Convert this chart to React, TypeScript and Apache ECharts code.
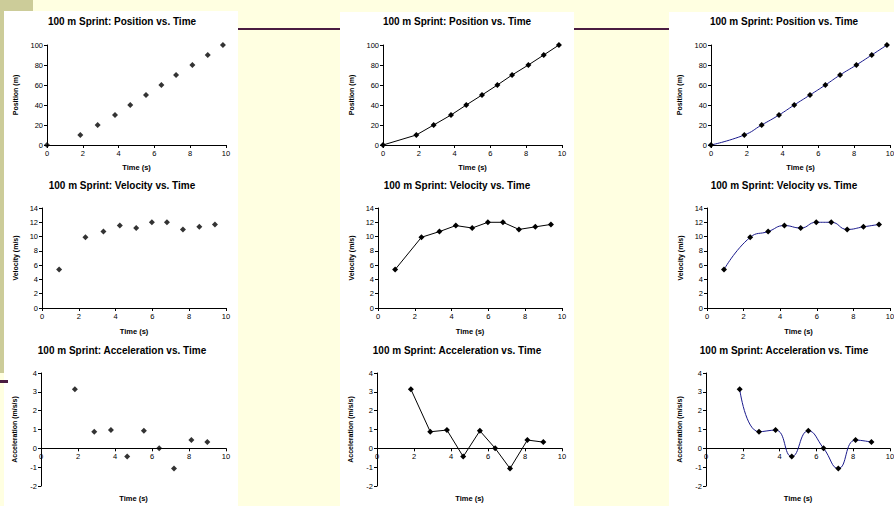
import React, { useEffect, useRef } from "react";
import * as echarts from "echarts";

const posTime = [0, 1.86, 2.83, 3.8, 4.65, 5.53, 6.39, 7.21, 8.12, 8.98, 9.83];
const posValue = [0, 10, 20, 30, 40, 50, 60, 70, 80, 90, 100];
const velTime = [0.93, 2.36, 3.34, 4.23, 5.12, 5.97, 6.79, 7.66, 8.55, 9.4];
const velValue = [5.38, 9.9, 10.7, 11.54, 11.2, 12.0, 12.0, 11.0, 11.36, 11.7];
const accTime = [1.83, 2.88, 3.78, 4.66, 5.56, 6.39, 7.19, 8.13, 8.99];
const accValue = [3.14, 0.88, 0.97, -0.44, 0.93, 0.0, -1.07, 0.44, 0.33];

const rowTitles = [
  "100 m Sprint: Position vs. Time",
  "100 m Sprint: Velocity vs. Time",
  "100 m Sprint: Acceleration vs. Time",
];
const yNames = ["Position (m)", "Velocity (m/s)", "Acceleration (m/s/s)"];
const xName = "Time (s)";
const yRanges = [
  [0, 100, 20],
  [0, 14, 2],
  [-2, 4, 1],
];

const FONT = "Arial, 'Liberation Sans', sans-serif";

export default function App() {
  const ref = useRef<HTMLDivElement>(null);
  useEffect(() => {
    if (!ref.current) return;
    const chart = echarts.init(ref.current, null, { renderer: "svg" });
    const data = [
      posTime.map((t, i) => [t, posValue[i]]),
      velTime.map((t, i) => [t, velValue[i]]),
      accTime.map((t, i) => [t, accValue[i]]),
    ];
    const rowTop = [45, 208, 373];
    const rowH = [100, 100, 113];
    const colLeft = [
      [47, 383, 711],
      [42, 378, 707],
      [41, 377, 706],
    ];
    const colRight = [226, 562, 890];
    const titleY = [16, 180, 345];
    const titleX = [122, 457, 784];
    const xNameGap = [18, 19, 46];
    const grids: any[] = [];
    const xAxes: any[] = [];
    const yAxes: any[] = [];
    const series: any[] = [];
    const titles: any[] = [];
    let gi = 0;
    for (let r = 0; r < 3; r++) {
      const [yMin, yMax, yInt] = yRanges[r];
      // shift the x axis up to the y = 0 line when the y range includes negatives
      const xOffset = yMin < 0 ? -(rowH[r] * (0 - yMin)) / (yMax - yMin) : 0;
      for (let c = 0; c < 3; c++) {
        const left = colLeft[r][c];
        grids.push({
          left,
          top: rowTop[r],
          width: colRight[c] - left,
          height: rowH[r],
          containLabel: false,
          outerBoundsMode: "none",
        });
        titles.push({
          text: rowTitles[r],
          left: titleX[c],
          top: titleY[r],
          padding: 0,
          textAlign: "center",
          textStyle: { fontFamily: FONT, fontSize: 10, fontWeight: "bold", color: "#000" },
        });
        xAxes.push({
          type: "value",
          gridIndex: gi,
          min: 0,
          max: 10,
          interval: 2,
          position: "bottom",
          offset: xOffset,
          name: xName,
          nameLocation: "middle",
          nameGap: xNameGap[r],
          nameTextStyle: { fontFamily: FONT, fontSize: 7.5, fontWeight: "bold", color: "#000" },
          axisLine: { show: true, onZero: false, lineStyle: { color: "#000", width: 1 } },
          axisTick: { show: true, inside: false, length: 3, lineStyle: { color: "#000" } },
          axisLabel: { fontFamily: FONT, fontSize: 7.5, color: "#000", margin: 4 },
          splitLine: { show: false },
        });
        yAxes.push({
          type: "value",
          gridIndex: gi,
          min: yMin,
          max: yMax,
          interval: yInt,
          name: yNames[r],
          nameLocation: "middle",
          nameGap: r === 0 ? 28 : 23,
          nameRotate: 90,
          nameTextStyle: { fontFamily: FONT, fontSize: 7, fontWeight: "bold", color: "#000" },
          axisLine: { show: true, onZero: false, lineStyle: { color: "#000", width: 1 } },
          axisTick: { show: true, inside: false, length: 3, lineStyle: { color: "#000" } },
          axisLabel: { fontFamily: FONT, fontSize: 7.5, color: "#000", margin: 4 },
          splitLine: { show: false },
        });
        const base: any = {
          xAxisIndex: gi,
          yAxisIndex: gi,
          data: data[r],
          symbol: "diamond",
          symbolSize: 6,
          itemStyle: { color: "#000" },
          z: 3,
        };
        if (c === 0) {
          series.push({ ...base, type: "scatter" });
        } else if (c === 1) {
          series.push({
            ...base,
            type: "line",
            showSymbol: true,
            lineStyle: { color: "#000", width: 1 },
          });
        } else {
          series.push({
            ...base,
            type: "line",
            showSymbol: true,
            smooth: 0.5,
            lineStyle: { color: "#1a1a8c", width: 1 },
          });
        }
        gi++;
      }
    }
    chart.setOption({
      animation: false,
      backgroundColor: "transparent",
      title: titles,
      grid: grids,
      xAxis: xAxes,
      yAxis: yAxes,
      series,
    });
    return () => chart.dispose();
  }, []);

  const box = (l: number, t: number, w: number, h: number, bg: string): React.CSSProperties => ({
    position: "absolute",
    left: l,
    top: t,
    width: w,
    height: h,
    background: bg,
  });

  return (
    <div style={{ position: "fixed", left: 0, top: 0, width: 894, height: 506, background: "#FFFFE1", overflow: "hidden" }}>
      <div style={box(0, 0, 33, 11, "#CCCC99")} />
      <div style={box(0, 0, 4, 373, "#CCCC99")} />
      <div style={box(238, 28, 656, 2, "#4A1C40")} />
      <div style={box(4, 11, 234, 495, "#FFFFFF")} />
      <div style={box(340, 12, 234, 494, "#FFFFFF")} />
      <div style={box(669, 12, 225, 494, "#FFFFFF")} />
      <div style={box(0, 380, 8, 3, "#4A1C40")} />
      <div ref={ref} style={{ position: "absolute", left: 0, top: 0, width: 894, height: 506 }} />
    </div>
  );
}
